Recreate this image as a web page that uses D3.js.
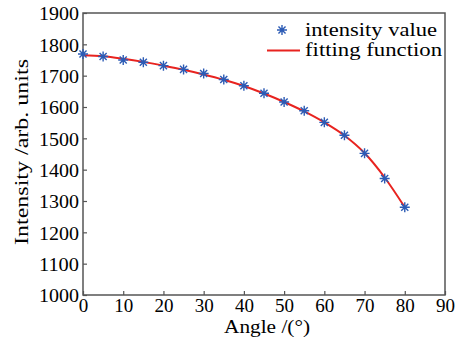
<!DOCTYPE html>
<html>
<head>
<meta charset="utf-8">
<script src="https://cdn.jsdelivr.net/npm/d3@7"></script>
<style>
    body { margin: 0; background: #fff; }
    svg text { font-family: "Liberation Serif", "DejaVu Serif", "Times New Roman", serif; fill: #000; }
</style>
</head>
<body>
<div class="graphic"></div>
<script>
var angles = [0, 5, 10, 15, 20, 25, 30, 35, 40, 45, 50, 55, 60, 65, 70, 75, 80];
var intensity = [1769, 1761, 1750, 1743, 1732, 1720, 1707, 1688, 1668, 1644, 1616, 1588, 1551, 1510, 1452, 1372, 1280];
var fitting = [1765, 1762, 1754, 1744, 1732, 1719, 1704, 1687, 1667, 1643, 1616, 1586, 1551, 1509, 1453, 1375, 1280];
var xTicks = [0, 10, 20, 30, 40, 50, 60, 70, 80, 90];
var yTicks = [1000, 1100, 1200, 1300, 1400, 1500, 1600, 1700, 1800, 1900];

var width = 469, height = 342;
var margin = { top: 13, right: 24, bottom: 47, left: 83 };
var fontStack = '"Liberation Serif", "DejaVu Serif", "Times New Roman", serif';

var svg = d3.select(".graphic")
    .append("svg")
    .attr("width", width)
    .attr("height", height);

var x = d3.scaleLinear()
    .domain([0, 90])
    .range([margin.left, width - margin.right]);

var y = d3.scaleLinear()
    .domain([1000, 1900])
    .range([height - margin.bottom, margin.top]);

var axisColor = "#555";

// frame
svg.append("rect")
    .attr("x", x(0))
    .attr("y", y(1900))
    .attr("width", x(90) - x(0))
    .attr("height", y(1000) - y(1900))
    .attr("fill", "none")
    .attr("stroke", axisColor)
    .attr("stroke-width", 1.5);

var xAxis = (g) =>
    g.attr("transform", `translate(0,${y(1000)})`)
        .call(d3.axisBottom(x).tickValues(xTicks).tickFormat(d3.format("d"))
            .tickSizeInner(-4).tickSizeOuter(0).tickPadding(4))
        .call((g) => g.select(".domain").remove());

var yAxis = (g) =>
    g.attr("transform", `translate(${x(0)},0)`)
        .call(d3.axisLeft(y).tickValues(yTicks).tickFormat(d3.format("d"))
            .tickSizeInner(-4).tickSizeOuter(0).tickPadding(4))
        .call((g) => g.select(".domain").remove());

svg.append("g").call(xAxis)
    .attr("font-family", fontStack)
    .call((g) => g.selectAll("line").attr("stroke", axisColor).attr("stroke-width", 1.2))
    .selectAll("text").attr("font-size", 19).attr("fill", "#000");

svg.append("g").call(yAxis)
    .attr("font-family", fontStack)
    .call((g) => g.selectAll("line").attr("stroke", axisColor).attr("stroke-width", 1.2))
    .selectAll("text").attr("font-size", 19).attr("fill", "#000")
    .attr("dy", "0.36em")
    .attr("textLength", 40)
    .attr("lengthAdjust", "spacingAndGlyphs");

// axis titles
svg.append("text")
    .attr("x", 224)
    .attr("y", 333)
    .attr("font-size", 19)
    .attr("textLength", 86)
    .attr("lengthAdjust", "spacingAndGlyphs")
    .text("Angle /(°)");

svg.append("text")
    .attr("transform", `translate(28,245) rotate(-90)`)
    .attr("font-size", 19)
    .attr("textLength", 186)
    .attr("lengthAdjust", "spacingAndGlyphs")
    .text("Intensity /arb. units");

// fitting curve
var line = d3.line()
    .x((d, i) => x(angles[i]))
    .y((d) => y(d))
    .curve(d3.curveMonotoneX);

svg.append("path")
    .datum(fitting)
    .attr("d", line)
    .attr("fill", "none")
    .attr("stroke", "#e8231f")
    .attr("stroke-width", 2);

// asterisk markers
var r = 5;
var star = (cx, cy) => {
    var d = "";
    [0, 45, 90, 135].forEach(function (a) {
        var rad = (a * Math.PI) / 180;
        var dx = r * Math.cos(rad), dy = r * Math.sin(rad);
        d += `M${cx - dx},${cy - dy}L${cx + dx},${cy + dy}`;
    });
    return d;
};

var blue = "#2c5bb5";

svg.append("g")
    .selectAll("path")
    .data(intensity)
    .join("path")
    .attr("d", (d, i) => star(x(angles[i]), y(d)))
    .attr("stroke", blue)
    .attr("stroke-width", 1.4)
    .attr("fill", "none");

// legend
var legend = svg.append("g");
legend.append("path")
    .attr("d", star(282, 30))
    .attr("stroke", blue)
    .attr("stroke-width", 1.4);
legend.append("text")
    .attr("x", 305)
    .attr("y", 36)
    .attr("font-size", 19)
    .attr("textLength", 132)
    .attr("lengthAdjust", "spacingAndGlyphs")
    .text("intensity value");
legend.append("line")
    .attr("x1", 267).attr("x2", 300)
    .attr("y1", 50.5).attr("y2", 50.5)
    .attr("stroke", "#e8231f")
    .attr("stroke-width", 2);
legend.append("text")
    .attr("x", 305)
    .attr("y", 56)
    .attr("font-size", 19)
    .attr("textLength", 137)
    .attr("lengthAdjust", "spacingAndGlyphs")
    .text("fitting function");
</script>
</body>
</html>
